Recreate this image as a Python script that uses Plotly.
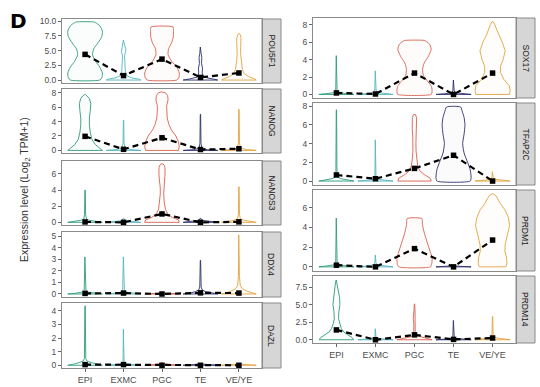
import plotly.graph_objects as go

# ---------------- data ----------------
cell_types = ["EPI", "EXMC", "PGC", "TE", "VE/YE"]
cell_colors = ["#2e9a7c", "#55b4bf", "#d9604f", "#2b2f6b", "#e2a33c"]

# mean expression per cell type (black squares)
means_POU5F1 = [4.35, 0.75, 3.55, 0.45, 1.2]
means_NANOG = [1.95, 0.15, 1.75, 0.12, 0.23]
means_NANOS3 = [0.05, 0.0, 1.04, 0.0, 0.06]
means_DDX4 = [0.05, 0.08, 0.0, 0.1, 0.08]
means_DAZL = [0.05, 0.05, 0.0, 0.0, 0.0]
means_SOX17 = [0.17, 0.05, 2.45, 0.0, 2.45]
means_TFAP2C = [0.65, 0.25, 1.35, 2.75, 0.0]
means_PRDM1 = [0.17, 0.0, 1.85, 0.0, 2.72]
means_PRDM14 = [1.4, 0.0, 0.7, 0.05, 0.25]

# violin outlines: (expression level, relative half width) pairs
prof_POU5F1 = [
    [(0, 0.85), (0.4, 0.97), (1.2, 1.0), (2.2, 0.85), (3.2, 0.6), (4.3, 0.43), (5.3, 0.5), (6.3, 0.75), (7.4, 0.97), (8.3, 1.0), (9.2, 0.85), (9.7, 0.62), (9.85, 0.5)],
    [(0, 1.0), (0.15, 0.9), (0.35, 0.5), (0.7, 0.2), (1.5, 0.1), (3, 0.07), (4.2, 0.06), (4.8, 0.12), (5.3, 0.13), (5.8, 0.07), (6.5, 0.03), (6.8, 0.01)],
    [(0, 0.85), (0.4, 0.97), (1.2, 1.0), (2.2, 0.85), (3.2, 0.55), (4.3, 0.35), (5.3, 0.38), (6.3, 0.55), (7.3, 0.65), (8.4, 0.66), (9.0, 0.64)],
    [(0, 1.0), (0.2, 0.6), (0.5, 0.2), (1.2, 0.1), (2.0, 0.12), (2.8, 0.06), (3.8, 0.08), (4.5, 0.04), (5.6, 0.01)],
    [(0, 1.0), (0.2, 0.9), (0.6, 0.55), (1.1, 0.3), (1.8, 0.2), (3, 0.14), (4.5, 0.1), (5.5, 0.1), (6.5, 0.13), (7.2, 0.12), (7.7, 0.07), (7.9, 0.03)],
]
prof_NANOG = [
    [(0, 1.0), (0.3, 0.85), (0.8, 0.6), (1.5, 0.4), (2.5, 0.3), (3.5, 0.25), (4.5, 0.25), (5.5, 0.3), (6.5, 0.33), (7.2, 0.25), (7.6, 0.12), (7.75, 0.03)],
    [(0, 1.0), (0.1, 0.5), (0.3, 0.1), (1.0, 0.03), (4.2, 0.01)],
    [(0, 0.95), (0.5, 1.0), (1.2, 0.95), (2.0, 0.8), (2.8, 0.55), (3.6, 0.4), (4.5, 0.3), (5.5, 0.27), (6.2, 0.27), (7.0, 0.35), (7.6, 0.33), (8.0, 0.2), (8.12, 0.05)],
    [(0, 1.0), (0.1, 0.4), (0.3, 0.08), (1.0, 0.03), (5.0, 0.01)],
    [(0, 1.0), (0.1, 0.5), (0.3, 0.1), (1.0, 0.03), (5.7, 0.01)],
]
prof_NANOS3 = [
    [(0, 1.0), (0.1, 0.6), (0.25, 0.25), (0.4, 0.08), (1.0, 0.03), (4.0, 0.01)],
    [(0, 1.0), (0.08, 0.5), (0.2, 0.1), (0.5, 0.02)],
    [(0, 1.0), (0.3, 0.95), (0.6, 0.6), (1.0, 0.35), (1.6, 0.2), (2.5, 0.13), (3.5, 0.1), (4.3, 0.1), (5.0, 0.14), (6.0, 0.18), (6.8, 0.17), (7.1, 0.12), (7.24, 0.05)],
    [(0, 1.0), (0.1, 0.5), (0.25, 0.1), (0.5, 0.02)],
    [(0, 1.0), (0.1, 0.6), (0.25, 0.3), (0.45, 0.08), (1.0, 0.03), (4.4, 0.01)],
]
prof_DDX4 = [
    [(0, 1.0), (0.05, 0.6), (0.15, 0.2), (0.3, 0.05), (3.2, 0.01)],
    [(0, 1.0), (0.05, 0.6), (0.15, 0.2), (0.3, 0.05), (3.2, 0.01)],
    [(0, 1.0), (0.05, 0.4), (0.1, 0.05)],
    [(0, 1.0), (0.1, 0.55), (0.2, 0.3), (0.35, 0.1), (0.6, 0.04), (2.9, 0.01)],
    [(0, 1.0), (0.1, 0.75), (0.25, 0.45), (0.45, 0.2), (0.7, 0.08), (1.5, 0.03), (5.1, 0.01)],
]
prof_DAZL = [
    [(0, 1.0), (0.1, 0.6), (0.2, 0.35), (0.3, 0.12), (0.5, 0.04), (4.37, 0.01)],
    [(0, 1.0), (0.05, 0.5), (0.12, 0.1), (0.3, 0.03), (2.65, 0.01)],
    [(0, 1.0), (0.05, 0.4), (0.1, 0.08), (0.2, 0.02)],
    [(0, 1.0), (0.05, 0.4), (0.1, 0.05)],
    [(0, 1.0), (0.05, 0.4), (0.1, 0.05)],
]
prof_SOX17 = [
    [(0, 1.0), (0.08, 0.6), (0.2, 0.15), (0.4, 0.04), (4.45, 0.01)],
    [(0, 1.0), (0.08, 0.6), (0.2, 0.15), (0.4, 0.04), (2.7, 0.01)],
    [(0, 0.95), (0.3, 1.0), (0.9, 0.97), (1.5, 0.75), (2.2, 0.5), (2.9, 0.46), (3.6, 0.55), (4.4, 0.8), (5.2, 0.95), (5.8, 0.85), (6.1, 0.65), (6.2, 0.55)],
    [(0, 1.0), (0.08, 0.5), (0.2, 0.1), (0.4, 0.04), (1.65, 0.01)],
    [(0, 0.95), (0.4, 1.0), (1.0, 0.95), (1.7, 0.65), (2.5, 0.45), (3.2, 0.45), (4.0, 0.6), (5.0, 0.72), (6.0, 0.55), (6.8, 0.35), (7.5, 0.22), (8.0, 0.13), (8.35, 0.03)],
]
prof_TFAP2C = [
    [(0, 1.0), (0.1, 0.6), (0.25, 0.25), (0.45, 0.06), (1.0, 0.03), (7.6, 0.01)],
    [(0, 1.0), (0.08, 0.5), (0.2, 0.1), (0.5, 0.03), (4.4, 0.01)],
    [(0, 0.95), (0.3, 0.9), (0.7, 0.55), (1.1, 0.3), (1.6, 0.18), (2.4, 0.12), (3.2, 0.09), (4.0, 0.08), (4.8, 0.1), (5.5, 0.13), (6.2, 0.14), (6.8, 0.12), (7.1, 0.05)],
    [(0, 0.95), (0.4, 1.0), (1.2, 0.95), (2.0, 0.8), (3.0, 0.6), (4.0, 0.52), (5.0, 0.6), (6.0, 0.65), (6.8, 0.6), (7.4, 0.5), (7.9, 0.4)],
    [(0, 1.0), (0.08, 0.5), (0.2, 0.1), (0.4, 0.03), (1.0, 0.01)],
]
prof_PRDM1 = [
    [(0, 1.0), (0.08, 0.6), (0.2, 0.15), (0.4, 0.04), (4.95, 0.01)],
    [(0, 1.0), (0.08, 0.5), (0.2, 0.1), (0.4, 0.03), (1.2, 0.01)],
    [(0, 0.9), (0.3, 0.98), (0.9, 1.0), (1.5, 0.9), (2.5, 0.72), (3.5, 0.55), (4.3, 0.45), (4.9, 0.42)],
    [(0, 1.0), (0.05, 0.5), (0.1, 0.1)],
    [(0, 0.75), (0.3, 0.82), (0.9, 0.8), (1.6, 0.7), (2.3, 0.72), (3.2, 0.85), (4.2, 0.97), (5.0, 0.9), (5.8, 0.7), (6.4, 0.45), (6.9, 0.3), (7.2, 0.2), (7.4, 0.05)],
]
prof_PRDM14 = [
    [(0, 0.98), (0.3, 0.9), (0.7, 0.65), (1.1, 0.42), (1.6, 0.28), (2.3, 0.18), (3.0, 0.12), (4.0, 0.14), (5.0, 0.2), (6.0, 0.18), (6.8, 0.12), (7.6, 0.08), (8.2, 0.05), (8.5, 0.01)],
    [(0, 1.0), (0.08, 0.5), (0.2, 0.1), (0.4, 0.03), (1.57, 0.01)],
    [(0, 1.0), (0.1, 0.85), (0.25, 0.55), (0.4, 0.25), (0.6, 0.1), (1.2, 0.04), (2.4, 0.04), (3.0, 0.07), (3.8, 0.06), (4.3, 0.03), (5.1, 0.01)],
    [(0, 1.0), (0.08, 0.55), (0.2, 0.12), (0.4, 0.04), (2.75, 0.01)],
    [(0, 1.0), (0.1, 0.6), (0.25, 0.25), (0.4, 0.07), (0.8, 0.03), (3.3, 0.01)],
]

genes = ["POU5F1", "NANOG", "NANOS3", "DDX4", "DAZL", "SOX17", "TFAP2C", "PRDM1", "PRDM14"]
gene_means = [means_POU5F1, means_NANOG, means_NANOS3, means_DDX4, means_DAZL,
              means_SOX17, means_TFAP2C, means_PRDM1, means_PRDM14]
gene_profiles = [prof_POU5F1, prof_NANOG, prof_NANOS3, prof_DDX4, prof_DAZL,
                 prof_SOX17, prof_TFAP2C, prof_PRDM1, prof_PRDM14]
y_tickvals = [[0, 2.5, 5, 7.5, 10], [0, 2, 4, 6, 8], [0, 2, 4, 6], [0, 1, 2, 3, 4, 5], [0, 1, 2, 3, 4],
              [0, 2, 4, 6, 8], [0, 2, 4, 6, 8], [0, 2, 4, 6], [0, 2.5, 5, 7.5]]

# ---------------- layout geometry (pixels) ----------------
W, H = 540, 387
y_ranges = [[-0.5, 10.35], [-0.36, 8.52], [-0.33, 7.6], [-0.26, 5.35], [-0.2, 4.58],
            [-0.41, 8.77], [-0.42, 8.33], [-0.42, 7.8], [-0.46, 9.07]]
panel_px = [(62, 262, 19, 83), (62, 262, 89, 153), (62, 262, 161, 225), (62, 262, 232, 297), (62, 262, 303, 368),
            (313, 516, 18, 98), (313, 516, 103, 185), (313, 516, 190, 271), (313, 516, 276, 343)]
strip_w = 19
half_w = 0.45


def tint(hexc, a):
    h = hexc.lstrip("#")
    rgb = [int(h[j:j + 2], 16) for j in (0, 2, 4)]
    mixed = [round(255 + (c - 255) * a) for c in rgb]
    return "#" + "".join(f"{c:02x}" for c in mixed)


fig = go.Figure()
layout = dict(width=W, height=H, margin=dict(l=0, r=0, t=0, b=0, autoexpand=False),
              paper_bgcolor="white", plot_bgcolor="white", showlegend=False,
              font=dict(family="Liberation Sans, Arial, sans-serif", color="#4d4d4d"))
shapes = []
annotations = []

for k, gene in enumerate(genes):
    n = k + 1
    xa = "x" if n == 1 else f"x{n}"
    ya = "y" if n == 1 else f"y{n}"
    x0, x1, y0, y1 = panel_px[k]
    bottom = k in (4, 8)
    # violins
    for i, prof in enumerate(gene_profiles[k]):
        ys = [p[0] for p in prof]
        ws = [max(p[1], 0.005) * half_w for p in prof]
        px = [i + w for w in ws] + [i - w for w in ws[::-1]] + [i + ws[0]]
        py = ys + ys[::-1] + [ys[0]]
        smooth = min(p[1] for p in prof) > 0.15
        line = dict(color=cell_colors[i], width=0.9)
        if smooth:
            line.update(shape="spline", smoothing=0.6)
        fig.add_trace(go.Scatter(x=px, y=py, mode="lines", fill="toself", line=line,
                                 fillcolor=tint(cell_colors[i], 0.02), hoverinfo="skip",
                                 xaxis=xa, yaxis=ya))
    # mean line
    fig.add_trace(go.Scatter(x=list(range(len(cell_types))), y=gene_means[k], mode="lines+markers",
                             line=dict(color="black", width=2.2, dash="6px,4px"),
                             marker=dict(symbol="square", size=5.5, color="black"),
                             hoverinfo="skip", xaxis=xa, yaxis=ya))
    layout["xaxis" if n == 1 else f"xaxis{n}"] = dict(
        domain=[x0 / W, x1 / W], range=[-0.6, 4.6], anchor=ya, automargin=False,
        showline=True, mirror=True, linecolor="#8a8a8a", linewidth=1,
        showgrid=False, zeroline=False,
        tickvals=list(range(len(cell_types))), ticktext=cell_types,
        showticklabels=bottom, ticks="outside" if bottom else "", ticklen=3, tickcolor="#666",
        tickfont=dict(size=9, color="#4d4d4d"), fixedrange=True)
    layout["yaxis" if n == 1 else f"yaxis{n}"] = dict(
        domain=[1 - y1 / H, 1 - y0 / H], range=y_ranges[k], anchor=xa, automargin=False,
        showline=True, mirror=True, linecolor="#8a8a8a", linewidth=1,
        showgrid=False, zeroline=False,
        tickvals=y_tickvals[k], ticktext=[(f"{v:.1f}" if k in (0, 8) else str(v)) for v in y_tickvals[k]],
        ticks="outside", ticklen=3, tickcolor="#666",
        tickfont=dict(size=8.5, color="#4d4d4d"), fixedrange=True)
    # strip
    shapes.append(dict(type="rect", xref="paper", yref="paper",
                       x0=x1 / W, x1=(x1 + strip_w) / W, y0=1 - y1 / H, y1=1 - y0 / H,
                       fillcolor="#d6d6d6", line=dict(color="#8a8a8a", width=1), layer="below"))
    annotations.append(dict(xref="paper", yref="paper", x=(x1 + strip_w / 2) / W, y=1 - (y0 + y1) / 2 / H,
                            text=gene, textangle=90, showarrow=False,
                            font=dict(size=8.5, color="#1a1a1a"), xanchor="center", yanchor="middle"))

annotations.append(dict(xref="paper", yref="paper", x=25 / W, y=1 - 190 / H,
                        text="Expression level (Log<sub>2</sub> TPM+1)", textangle=-90, showarrow=False,
                        font=dict(size=10.5, color="#333333"), xanchor="center", yanchor="middle"))
annotations.append(dict(xref="paper", yref="paper", x=18 / W, y=1 - 21 / H, text="<b>D</b>",
                        showarrow=False, font=dict(size=20, color="black", family="DejaVu Sans"),
                        xanchor="center", yanchor="middle"))

layout["shapes"] = shapes
layout["annotations"] = annotations
fig.update_layout(**layout)
fig.write_html("out.html", config={"displayModeBar": False, "staticPlot": True},
               post_script="document.body.style.margin='0';document.body.style.overflow='hidden';")
